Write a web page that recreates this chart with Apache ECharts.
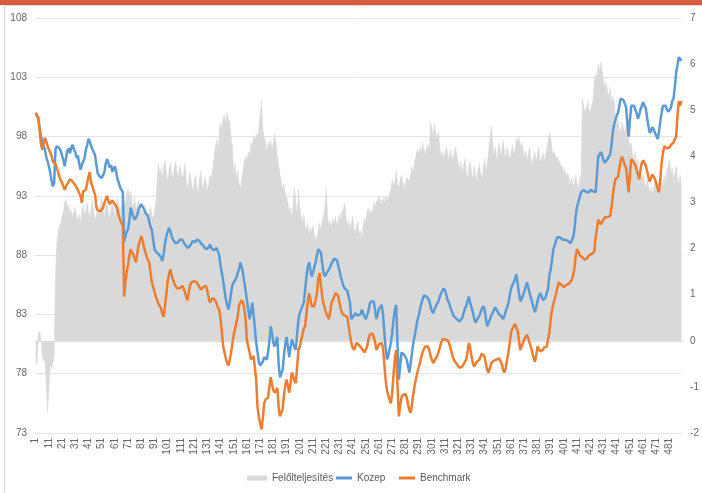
<!DOCTYPE html>
<html>
<head>
<meta charset="utf-8">
<script src="https://cdn.jsdelivr.net/npm/echarts@6/dist/echarts.min.js"></script>
<style>
html,body{margin:0;padding:0;background:#fff;}
#c{width:702px;height:493px;}
</style>
</head>
<body>
<div id="c"></div>
<script>
// ---- data ----
const categories = [];
for (let i = 1; i <= 490; i++) categories.push(String(i));

const leftTicks = [73, 78, 83, 88, 93, 98, 103, 108];
const rightTicks = [-2, -1, 0, 1, 2, 3, 4, 5, 6, 7];

const felolteljesites = [
-0.45,-0.5,0.15,0.2,0.05,-0.3,-0.45,-0.4,-0.9,-1.55,
-1.1,-0.5,-0.6,-0.5,-0.3,1.4,2.1,2.35,2.5,2.55,
2.7,2.8,3.0,3.07,2.9,2.95,2.75,2.85,2.65,2.8,
2.9,2.7,2.6,2.75,2.55,2.8,2.95,2.7,2.85,3.0,
2.8,2.65,2.9,3.05,2.8,2.6,2.75,2.9,2.7,2.95,
3.1,2.85,2.7,2.9,3.0,2.8,2.65,2.85,3.0,2.9,
2.7,2.9,3.1,2.95,2.8,3.0,3.15,2.9,3.05,3.2,
3.3,3.1,3.25,3.0,2.9,3.1,2.85,2.95,3.05,2.8,
2.9,2.7,2.85,2.95,2.75,2.6,2.8,2.9,2.7,2.65,
2.8,3.0,3.5,3.85,3.6,3.75,3.5,3.8,3.9,3.65,
3.45,3.7,3.85,3.6,3.5,3.75,3.9,3.65,3.55,3.8,
3.7,3.5,3.6,3.85,3.45,3.3,3.5,3.65,3.4,3.25,
3.45,3.6,3.35,3.2,3.5,3.7,3.4,3.3,3.55,3.45,
3.25,3.4,3.6,3.5,3.7,3.95,4.2,4.37,4.1,4.5,
4.74,4.6,4.85,4.9,4.7,4.96,4.8,4.74,4.4,4.2,
3.6,3.85,3.5,3.7,3.4,3.28,3.5,3.7,3.9,4.0,
3.9,4.1,4.0,4.3,4.2,4.45,4.35,4.5,4.4,4.6,
4.9,5.2,4.6,4.4,4.3,4.1,4.3,4.2,4.35,4.15,
4.3,4.5,4.3,4.0,3.8,3.6,3.45,3.3,3.4,3.2,
3.14,3.0,2.8,2.9,2.65,3.0,3.32,3.0,2.75,3.28,
2.9,2.7,2.56,2.75,2.5,2.4,2.56,2.3,2.45,2.35,
2.5,2.3,2.2,2.25,2.4,2.55,2.4,2.6,2.7,2.9,
3.3,2.7,2.5,2.6,2.45,2.65,2.55,2.7,2.5,2.6,
2.75,2.6,2.8,2.85,3.0,2.7,2.5,2.6,2.4,2.55,
2.7,2.45,2.35,2.5,2.6,2.3,2.4,2.2,2.5,2.65,
2.6,2.8,2.9,2.7,2.85,2.75,3.0,2.9,3.05,3.0,
3.13,3.05,2.95,3.1,3.0,3.15,3.05,3.1,3.2,3.28,
3.5,3.35,3.45,3.7,3.4,3.3,3.5,3.6,3.45,3.3,
3.4,3.55,3.5,3.45,3.6,3.78,3.65,3.9,4.0,4.15,
4.05,4.2,4.1,4.3,4.15,4.0,4.2,4.25,4.1,4.74,
4.6,4.45,4.7,4.5,4.4,4.55,4.2,4.0,4.1,3.95,
4.1,4.2,4.05,3.95,4.15,4.0,3.93,4.1,4.2,4.0,
3.85,3.7,3.9,3.6,3.8,3.95,3.7,3.5,3.75,3.9,
3.65,3.5,3.8,3.6,3.43,3.7,3.85,3.6,3.5,3.75,
3.95,3.7,3.85,4.1,4.4,4.65,4.3,4.0,4.2,3.93,
4.1,4.3,4.0,4.15,4.37,4.1,3.95,4.2,4.05,3.95,
4.1,4.25,4.0,4.15,4.4,4.3,4.43,4.2,4.3,4.15,
4.0,4.1,3.9,4.05,4.2,3.95,3.8,4.0,4.1,3.9,
4.05,4.2,3.85,3.95,4.1,3.9,4.0,4.15,4.3,4.54,
4.4,4.15,4.05,4.1,3.95,4.0,3.85,3.9,3.75,3.8,
3.6,3.7,3.55,3.65,3.5,3.4,3.55,3.3,3.45,3.6,
3.4,3.3,3.5,3.6,5.24,5.1,4.95,5.05,5.2,5.0,
4.95,5.1,5.2,5.6,5.8,5.7,6.0,5.85,6.04,6.07,
5.67,5.5,5.6,5.4,5.3,5.5,5.17,5.3,5.2,4.87,
4.7,4.8,4.6,4.5,4.75,4.6,4.5,4.7,4.55,4.37,
4.2,4.3,4.05,3.9,4.1,3.8,3.95,3.7,3.65,3.5,
3.6,3.45,3.3,3.5,3.4,3.2,3.35,3.14,3.3,3.45,
3.25,3.4,3.2,3.3,3.5,3.35,3.6,3.4,3.7,3.8,
3.93,3.6,3.75,3.5,3.65,3.8,3.5,3.4,3.6,3.3
];

const kozep = [
100.0,99.9,99.5,98.8,98.0,97.6,97.2,96.9,96.3,95.9,
95.5,95.0,94.3,93.8,94.1,96.9,97.2,97.3,97.0,96.8,
96.4,96.0,95.5,96.2,96.8,97.0,96.6,97.1,97.3,96.9,
96.7,96.2,96.4,95.7,95.2,95.6,95.9,96.2,96.9,97.3,
97.8,97.6,97.2,96.9,96.7,96.4,95.6,94.9,94.7,94.6,
94.5,94.6,95.0,95.7,96.1,95.8,95.4,95.6,95.0,95.3,
95.5,95.0,94.4,94.1,93.7,93.5,93.3,89.1,89.6,90.0,
90.2,91.0,92.0,91.6,91.2,91.0,90.9,91.4,91.9,92.1,
92.3,92.1,91.9,91.6,91.5,91.3,90.8,90.4,90.1,89.3,
88.5,88.3,88.4,88.1,88.0,87.8,87.5,88.2,89.0,89.6,
90.0,90.3,90.0,89.6,89.3,89.2,89.0,89.1,89.1,89.3,
89.4,89.3,89.1,88.9,88.8,88.6,88.6,88.8,89.0,89.2,
89.2,89.1,89.3,89.2,89.2,89.0,88.9,88.8,88.6,88.5,
88.5,88.7,88.9,88.6,88.6,88.4,88.5,88.6,88.5,88.0,
87.1,86.5,85.8,85.0,84.3,83.8,83.4,84.0,84.8,85.5,
85.7,85.9,86.1,86.5,86.8,87.4,87.0,86.5,85.7,85.0,
84.2,83.4,82.6,83.2,84.0,83.0,81.8,80.6,79.8,79.0,
78.7,78.6,79.0,79.4,79.3,79.2,79.8,80.8,82.0,81.4,
80.6,80.3,80.7,81.1,78.8,77.7,77.8,78.3,79.5,80.5,
81.1,80.3,79.4,80.2,80.9,80.6,80.2,80.0,81.4,82.6,
83.1,83.4,83.7,84.0,85.0,86.1,87.0,87.4,86.8,86.2,
86.5,87.0,87.4,88.0,88.5,88.4,88.2,87.3,86.5,86.2,
86.4,86.6,86.8,87.0,87.3,87.5,87.7,87.8,87.6,87.2,
86.7,86.2,85.8,85.4,85.2,85.1,85.0,85.1,84.0,82.6,
82.7,82.9,83.1,83.0,82.9,82.8,83.0,83.4,83.1,82.8,
82.6,82.7,83.3,83.9,84.1,84.2,84.1,83.4,82.6,83.0,
83.5,83.6,83.8,83.0,81.5,80.2,79.2,79.5,80.1,80.6,
81.5,82.6,83.4,83.8,80.5,77.5,78.6,79.8,79.7,79.6,
79.6,79.2,78.6,78.1,78.9,79.8,80.6,81.2,81.8,82.5,
82.9,83.4,83.9,84.3,84.6,84.7,84.5,84.6,84.2,83.7,
83.3,83.1,83.4,83.7,83.8,84.1,84.5,84.8,85.0,85.2,
85.0,84.6,84.2,84.0,83.6,83.3,83.0,82.8,82.8,82.6,
82.5,82.4,82.4,82.7,83.1,83.5,83.7,84.1,84.5,84.0,
83.6,83.2,82.7,82.3,82.5,82.6,82.9,83.2,83.5,83.7,
83.4,82.6,82.0,82.3,82.6,82.9,83.1,83.4,83.6,83.4,
83.2,83.0,83.0,82.8,82.6,82.9,83.3,83.6,84.0,84.6,
85.2,85.5,85.7,86.0,86.4,85.6,84.8,84.1,84.3,84.4,
84.9,85.3,85.7,85.3,84.8,84.4,84.0,83.6,83.2,83.6,
84.1,84.5,84.8,84.6,84.2,84.3,84.4,84.4,85.2,86.3,
86.8,87.6,88.5,88.8,89.2,89.5,89.6,89.5,89.4,89.3,
89.2,89.3,89.4,89.2,89.1,89.0,89.1,89.5,90.2,91.4,
92.1,92.5,92.9,93.3,93.4,93.5,93.5,93.3,93.2,93.3,
93.5,93.4,93.4,93.3,93.3,94.8,96.3,96.5,96.7,96.4,
96.0,95.8,95.9,96.1,96.3,96.5,97.2,98.4,99.0,99.4,
99.8,100.0,100.6,101.2,101.3,101.1,101.0,100.5,99.2,98.0,
99.4,100.6,100.7,100.6,100.5,100.0,99.5,99.8,100.3,100.6,
100.9,100.6,100.4,99.6,98.9,98.3,98.5,98.8,98.6,98.3,
98.3,97.8,98.4,99.3,100.0,100.6,100.7,100.6,100.3,100.1,
100.0,100.4,101.0,101.2,102.2,103.4,104.0,104.7,104.6,104.4
];

const benchmark = [
100.0,99.9,99.6,98.5,97.4,96.9,97.4,97.9,97.6,97.2,
96.9,96.8,96.4,95.9,95.8,95.7,95.6,95.0,94.6,94.3,
94.1,93.8,93.5,93.8,94.0,94.2,94.4,94.3,94.2,94.1,
93.9,93.8,93.5,93.2,93.0,92.4,93.4,93.5,93.5,94.1,
94.6,95.0,94.1,93.8,93.4,93.1,92.0,91.8,91.7,91.7,
91.8,92.0,92.4,92.7,93.0,92.6,92.3,92.4,92.6,92.5,
92.3,92.1,91.8,91.3,91.0,90.7,90.4,84.5,85.8,86.6,
87.2,88.0,88.5,88.5,88.0,87.7,87.4,88.2,88.9,89.2,
89.6,89.2,88.7,88.3,87.9,87.6,87.4,86.5,85.7,85.3,
84.9,84.5,84.2,83.9,83.7,83.5,83.0,82.8,83.8,84.8,
85.8,86.4,86.8,86.3,85.9,85.6,85.4,85.2,85.1,85.2,
85.3,85.4,85.2,84.9,84.5,84.2,84.9,85.5,85.7,85.7,
85.8,85.8,85.7,85.5,85.3,85.1,85.2,85.3,85.4,85.4,
85.0,84.4,84.0,84.2,84.4,84.5,84.2,83.9,83.6,83.4,
82.6,81.5,80.3,79.8,79.3,78.9,78.7,79.2,79.8,80.6,
81.3,81.8,82.3,82.8,83.8,84.0,84.2,84.0,83.5,82.5,
80.8,80.3,79.8,79.2,79.3,79.5,79.4,77.5,75.2,74.4,
73.8,73.3,74.2,75.5,75.8,75.9,76.0,76.9,77.7,77.1,
76.6,76.4,76.6,76.8,75.2,74.4,74.4,75.0,76.2,77.0,
77.5,77.0,76.4,77.2,78.1,77.8,77.4,77.2,78.6,80.0,
80.3,80.8,81.3,81.8,82.0,83.0,84.0,84.8,84.3,83.7,
83.6,83.7,83.7,84.8,86.0,86.5,85.5,84.5,83.9,83.5,
83.1,82.9,82.6,83.2,84.0,84.2,84.5,84.8,84.9,84.6,
84.0,83.5,83.1,83.0,82.9,82.8,82.8,82.0,81.3,80.6,
80.2,80.0,80.3,80.6,80.5,80.4,80.3,80.1,80.0,79.8,
79.8,80.3,80.9,81.3,81.3,81.4,81.3,80.7,80.0,80.2,
80.5,80.6,80.6,80.2,78.8,77.5,76.6,76.2,75.8,75.5,
76.4,78.0,79.3,80.0,77.0,74.4,75.3,76.0,76.2,76.3,
76.3,76.0,75.4,74.9,74.7,75.5,76.3,77.0,77.6,78.1,
78.5,78.9,79.4,79.8,80.1,80.3,80.2,80.3,80.0,79.5,
79.2,78.9,79.0,79.3,79.5,79.8,80.2,80.6,80.9,81.0,
80.9,80.8,80.8,80.6,80.2,79.8,79.4,79.1,79.0,78.8,
78.7,78.5,78.6,78.6,78.7,79.0,79.2,79.8,80.6,80.2,
79.5,78.9,78.6,78.8,79.0,79.0,79.2,79.5,79.7,79.8,
79.4,78.8,78.3,78.1,78.5,78.9,79.0,79.1,79.2,79.2,
79.3,79.3,79.2,78.8,78.3,78.1,78.5,79.2,79.8,80.6,
81.5,81.8,82.0,82.2,82.3,81.6,80.8,80.0,80.3,80.6,
80.9,81.1,81.3,81.0,80.6,80.3,79.8,79.4,79.0,79.5,
80.3,80.1,79.9,79.8,80.0,80.2,80.3,80.3,80.9,81.5,
82.6,83.4,83.9,84.3,84.7,85.2,85.7,85.6,85.5,85.4,
85.3,85.4,85.5,85.5,85.6,85.7,85.9,86.3,86.9,88.0,
88.5,88.3,88.0,87.9,87.8,87.7,87.6,87.6,87.8,88.0,
88.1,88.1,88.2,88.3,89.5,90.2,91.0,90.8,90.6,90.8,
91.0,91.2,91.3,91.2,91.3,91.3,92.0,93.0,93.8,94.4,
94.5,94.6,94.6,96.0,96.3,96.0,95.6,95.4,94.4,93.3,
94.8,96.1,96.0,95.8,95.6,95.2,94.8,94.4,95.2,95.8,
96.0,95.8,95.6,95.1,94.6,94.2,94.5,94.8,94.6,94.4,
94.4,93.6,93.3,94.5,95.8,96.6,97.2,97.1,97.0,96.9,
97.1,97.3,97.4,97.5,97.8,98.0,99.8,101.0,100.6,101.0
];

const seriesNames = ['Felőlteljesítés', 'Kozep', 'Benchmark'];

// ---- chart ----
const chart = echarts.init(document.getElementById('c'), null, {renderer: 'canvas'});
const FONT = '"Liberation Sans", Arial, sans-serif';
const LINE_ICON = 'path://M0,0 L16,0 L16,3 L0,3 Z';
const legendText = {color: '#595959', fontSize: 10, fontFamily: FONT};
const option = {
  animation: false,
  backgroundColor: '#ffffff',
  textStyle: {fontFamily: FONT},
  graphic: [
    {type: 'rect', shape: {x: 0, y: 0, width: 702, height: 5}, style: {fill: '#D35C41'}, silent: true},
    {type: 'rect', shape: {x: 4.5, y: 5.5, width: 720, height: 520}, style: {fill: 'none', stroke: '#d9d9d9', lineWidth: 1}, silent: true, z: -1}
  ],
  grid: {left: 35, right: 18, top: 18, bottom: 60, containLabel: false},
  legend: [
    {
      data: [{name: seriesNames[0], icon: 'rect'}],
      left: 247, top: 473, padding: 0,
      itemWidth: 20, itemHeight: 5,
      textStyle: legendText
    },
    {
      data: [{name: seriesNames[1], icon: LINE_ICON}],
      left: 336, top: 473, padding: 0,
      itemWidth: 16, itemHeight: 3,
      textStyle: legendText
    },
    {
      data: [{name: seriesNames[2], icon: LINE_ICON}],
      left: 399, top: 473, padding: 0,
      itemWidth: 16, itemHeight: 3,
      textStyle: legendText
    }
  ],
  xAxis: {
    type: 'category',
    data: categories,
    boundaryGap: true,
    axisLine: {lineStyle: {color: '#d9d9d9', width: 1}},
    axisTick: {show: false},
    axisLabel: {interval: 9, rotate: 90, color: '#666666', fontSize: 10, margin: 5, fontFamily: FONT},
    splitLine: {show: false}
  },
  yAxis: [
    {
      type: 'value',
      min: leftTicks[0],
      max: leftTicks[leftTicks.length - 1],
      interval: leftTicks[1] - leftTicks[0],
      axisLine: {show: false},
      axisTick: {show: false},
      axisLabel: {color: '#666666', fontSize: 10, margin: 8, fontFamily: FONT},
      splitLine: {lineStyle: {color: '#e3e3e3', width: 1}}
    },
    {
      type: 'value',
      min: rightTicks[0],
      max: rightTicks[rightTicks.length - 1],
      interval: rightTicks[1] - rightTicks[0],
      position: 'right',
      axisLine: {show: false},
      axisTick: {show: false},
      axisLabel: {color: '#666666', fontSize: 10, margin: 8, fontFamily: FONT},
      splitLine: {show: false}
    }
  ],
  series: [
    {
      name: seriesNames[0],
      type: 'line',
      yAxisIndex: 1,
      data: felolteljesites,
      symbol: 'none',
      lineStyle: {width: 0.5, color: '#d9d9d9'},
      itemStyle: {color: '#d9d9d9'},
      areaStyle: {color: '#d9d9d9', opacity: 1},
      z: 1
    },
    {
      name: seriesNames[1],
      type: 'line',
      yAxisIndex: 0,
      data: kozep,
      symbol: 'none',
      lineStyle: {width: 2.5, color: '#5B9BD5'},
      itemStyle: {color: '#5B9BD5'},
      z: 3
    },
    {
      name: seriesNames[2],
      type: 'line',
      yAxisIndex: 0,
      data: benchmark,
      symbol: 'none',
      lineStyle: {width: 2.5, color: '#ED7D31'},
      itemStyle: {color: '#ED7D31'},
      z: 4
    }
  ]
};
chart.setOption(option);
</script>
</body>
</html>
